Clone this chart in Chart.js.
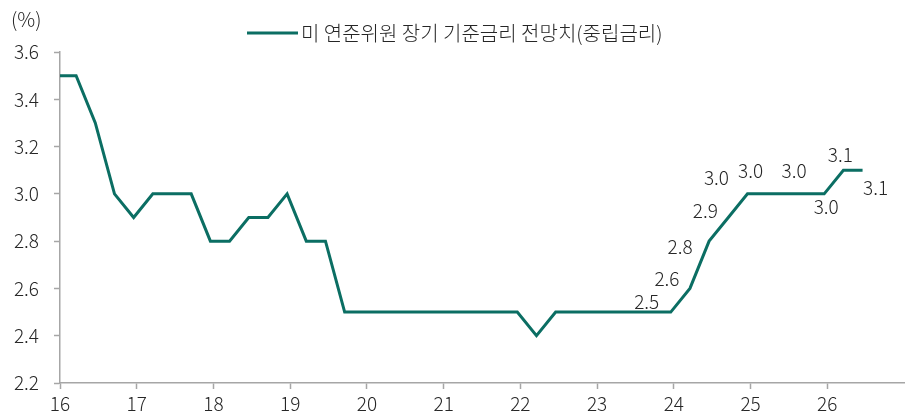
<!DOCTYPE html>
<html>
<head>
<meta charset="utf-8">
<script src="https://cdn.jsdelivr.net/npm/chart.js@4"></script>
<style>
  html, body { margin: 0; padding: 0; background: #fff; }
  #wrap { width: 912px; height: 417px; }
</style>
</head>
<body>
<div id="wrap"><canvas id="c" width="912" height="417"></canvas></div>
<script>
// ---- data ----
const seriesName = '미 연준위원 장기 기준금리 전망치(중립금리)';
const unitLabel = '(%)';
// x positions in years (16 = 2016), one per FOMC projection release
const periods = [
  15.96, 16.21, 16.46, 16.71, 16.96, 17.21, 17.46, 17.71, 17.96,
  18.21, 18.46, 18.71, 18.96, 19.21, 19.46, 19.71, 19.96,
  20.21, 20.46, 20.71, 20.96, 21.21, 21.46, 21.71, 21.96,
  22.21, 22.46, 22.71, 22.96, 23.21, 23.46, 23.71, 23.96,
  24.21, 24.46, 24.71, 24.96, 25.21, 25.46, 25.71, 25.96,
  26.21, 26.46
];
const rates = [
  3.5, 3.5, 3.3, 3.0, 2.9, 3.0, 3.0, 3.0, 2.8,
  2.8, 2.9, 2.9, 3.0, 2.8, 2.8, 2.5, 2.5,
  2.5, 2.5, 2.5, 2.5, 2.5, 2.5, 2.5, 2.5,
  2.4, 2.5, 2.5, 2.5, 2.5, 2.5, 2.5, 2.5,
  2.6, 2.8, 2.9, 3.0, 3.0, 3.0, 3.0, 3.0,
  3.1, 3.1
];
const xTicks = [16, 17, 18, 19, 20, 21, 22, 23, 24, 25, 26, 27];
const yTicks = [2.2, 2.4, 2.6, 2.8, 3.0, 3.2, 3.4, 3.6];
// indices of points that carry a value label
const labelledPoints = [32, 33, 34, 35, 36, 37, 39, 40, 41, 42];

// ---- styling / placement ----
const FONT = '"Noto Sans CJK KR", "Noto Sans", sans-serif';
const FSIZE = 19;
const LSIZE = 20;
const FWEIGHT = '300';
const LINE_COLOR = '#0b6e63';
const AXIS_COLOR = '#a6a6a6';
const TEXT_COLOR = '#262626';
const labelOffsets = {
  32: [-24, -10], 33: [-23, -10], 34: [-29, 6], 35: [-23, -7],
  36: [-31, -16], 37: [-16, -23], 39: [-11, -23], 40: [2, 13],
  41: [-3, -15], 42: [13, 18]
};

const points = periods.map((x, i) => ({ x: x, y: rates[i] }));

const extrasPlugin = {
  id: 'extras',
  afterDatasetsDraw(chart) {
    const ctx = chart.ctx;
    const meta = chart.getDatasetMeta(0);
    ctx.save();
    ctx.font = FWEIGHT + ' ' + FSIZE + 'px ' + FONT;
    ctx.fillStyle = TEXT_COLOR;
    ctx.textAlign = 'center';
    ctx.textBaseline = 'middle';
    labelledPoints.forEach(i => {
      const el = meta.data[i];
      const off = labelOffsets[i] || [0, -14];
      ctx.fillText(rates[i].toFixed(1), el.x + off[0], el.y + off[1]);
    });
    ctx.restore();
  },
  afterDraw(chart) {
    const ctx = chart.ctx;
    ctx.save();
    ctx.font = FWEIGHT + ' ' + LSIZE + 'px ' + FONT;
    ctx.fillStyle = TEXT_COLOR;
    ctx.textAlign = 'left';
    ctx.textBaseline = 'middle';
    ctx.fillText(unitLabel, 11, 19);
    // legend
    ctx.strokeStyle = LINE_COLOR;
    ctx.lineWidth = 3;
    ctx.beginPath();
    ctx.moveTo(247, 33);
    ctx.lineTo(298, 33);
    ctx.stroke();
    ctx.fillText(seriesName, 301, 33);
    ctx.restore();
  }
};

new Chart(document.getElementById('c'), {
  type: 'line',
  data: {
    datasets: [{
      label: seriesName,
      data: points,
      borderColor: LINE_COLOR,
      backgroundColor: LINE_COLOR,
      borderWidth: 3,
      pointRadius: 0,
      tension: 0,
      fill: false
    }]
  },
  options: {
    responsive: false,
    devicePixelRatio: 1,
    animation: false,
    layout: { padding: { top: 52, right: 8, left: 0, bottom: 0 } },
    plugins: { legend: { display: false }, tooltip: { enabled: false } },
    scales: {
      x: {
        type: 'linear',
        min: 16, max: 27,
        afterBuildTicks(scale) { scale.ticks = xTicks.map(v => ({ value: v })); },
        afterFit(scale) { scale.height = 34; },
        border: { color: AXIS_COLOR, width: 1.5 },
        grid: {
          drawOnChartArea: false,
          drawTicks: true,
          tickLength: 6,
          tickWidth: 1.5,
          tickColor: ctx => (ctx.tick && ctx.tick.value === 27) ? 'rgba(0,0,0,0)' : AXIS_COLOR
        },
        ticks: {
          font: { family: FONT, size: FSIZE, weight: FWEIGHT },
          color: TEXT_COLOR,
          padding: 3,
          maxRotation: 0,
          callback: v => (v === 27 ? '' : String(v))
        }
      },
      y: {
        min: 2.2, max: 3.6,
        afterBuildTicks(scale) { scale.ticks = yTicks.map(v => ({ value: v })); },
        afterFit(scale) { scale.width = 60; },
        border: { color: AXIS_COLOR, width: 1.5 },
        grid: {
          drawOnChartArea: false,
          drawTicks: true,
          tickLength: 6,
          tickWidth: 1.5,
          tickColor: AXIS_COLOR
        },
        ticks: {
          font: { family: FONT, size: FSIZE, weight: FWEIGHT },
          color: TEXT_COLOR,
          padding: 15,
          callback: v => Number(v).toFixed(1)
        }
      }
    }
  },
  plugins: [extrasPlugin]
});
</script>
</body>
</html>
